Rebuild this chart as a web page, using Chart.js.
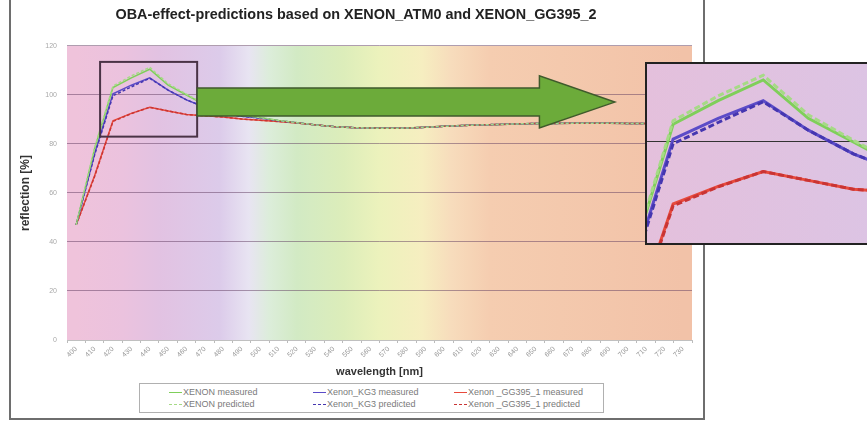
<!DOCTYPE html>
<html><head><meta charset="utf-8">
<script src="https://cdn.jsdelivr.net/npm/chart.js@4.4.1/dist/chart.umd.min.js"></script>
<style>
html,body{margin:0;padding:0;background:#fff;width:867px;height:421px;overflow:hidden;font-family:"Liberation Sans",Arial,sans-serif}
#frame{position:absolute;left:9px;top:-2px;width:696px;height:422px;border:2px solid #6e6e6e;border-top:none;box-sizing:border-box}
#main{position:absolute;left:0;top:0}
#insetBox{position:absolute;left:645px;top:62px;width:236px;height:183px;border:2px solid #222;box-sizing:border-box;background:linear-gradient(90deg,#e4c0dc,#dcc4e4)}
#inset{display:block}
#legend{position:absolute;left:139px;top:383px;width:465px;height:30px;border:1px solid #b0b0b0;box-sizing:border-box;font-size:9px;color:#7a7a7a;background:#fff}
.li{position:absolute;display:flex;align-items:center;white-space:nowrap;height:12px;line-height:12px}
.sw{width:13px;height:0;margin-right:1px}
</style></head><body>
<div id="frame"></div>
<canvas id="main" width="705" height="421"></canvas>
<div id="insetBox"><canvas id="inset" width="232" height="179"></canvas></div>
<div id="legend"></div>
<script>
// ---- data ----
const wavelengths = [400,410,420,430,440,450,460,470,480,490,500,510,520,530,540,550,560,570,580,590,600,610,620,630,640,650,660,670,680,690,700,710,720,730];
const xenonMeasured  = [47,78,103,107,110.5,104,100,96,93,91.7,90.8,89.6,88.7,87.8,87.1,86.7,86.5,86.4,86.5,86.8,87.2,87.5,87.8,88,88.2,88.4,88.4,88.5,88.5,88.5,88.4,88.4,88.4,88.4];
const xenonPredicted = [47,78.4,103.6,107.8,111.3,104.6,100.3,96.2,93.1,91.7,90.8,89.6,88.7,87.8,87.1,86.7,86.5,86.4,86.5,86.8,87.2,87.5,87.8,88,88.2,88.4,88.4,88.5,88.5,88.5,88.4,88.4,88.4,88.4];
const kg3Measured    = [47,76,100.5,104,107,102,98,95,92.5,91.3,90.6,89.5,88.7,87.8,87.1,86.7,86.5,86.4,86.5,86.8,87.2,87.5,87.8,88,88.2,88.4,88.4,88.5,88.5,88.5,88.4,88.4,88.4,88.4];
const kg3Predicted   = [47,75.5,99.7,103.3,106.8,102,98,95,92.5,91.3,90.6,89.5,88.7,87.8,87.1,86.7,86.5,86.4,86.5,86.8,87.2,87.5,87.8,88,88.2,88.4,88.4,88.5,88.5,88.5,88.4,88.4,88.4,88.4];
const gg395Measured  = [47,67,89.5,92.5,95,93.5,92,91.5,91,90.2,89.7,89.2,88.6,87.8,87.1,86.7,86.5,86.4,86.5,86.8,87.2,87.5,87.8,88,88.2,88.4,88.4,88.5,88.5,88.5,88.4,88.4,88.4,88.4];
const gg395Predicted = [47,66.7,89.2,92.4,95,93.5,92,91.5,91,90.2,89.7,89.2,88.6,87.8,87.1,86.7,86.5,86.4,86.5,86.8,87.2,87.5,87.8,88,88.2,88.4,88.4,88.5,88.5,88.5,88.4,88.4,88.4,88.4];
const seriesLabels = ['XENON measured','Xenon_KG3 measured','Xenon _GG395_1 measured','XENON predicted','Xenon_KG3 predicted','Xenon _GG395_1 predicted'];
const yTickValues = [0,20,40,60,80,100,120];

// ---- styles ----
const FONT = '"Liberation Sans", Arial, sans-serif';
Chart.defaults.font.family = FONT;
const seriesStyle = [
  {color:'#7fcf5a', dash:[], order:1},
  {color:'#5b4cc8', dash:[], order:1},
  {color:'#e84a3c', dash:[], order:1},
  {color:'#a6da86', dash:[3,2], order:0},
  {color:'#4536b0', dash:[3,2], order:0},
  {color:'#c93434', dash:[3,2], order:0}
];
const seriesValues = [xenonMeasured,kg3Measured,gg395Measured,xenonPredicted,kg3Predicted,gg395Predicted];
const spectrumStops = [[400,'#efc3db'],[425,'#ebc2de'],[445,'#e2c2e2'],[478,'#dccbea'],[494,'#e8e4f2'],[505,'#dcedda'],[520,'#d2eac4'],[545,'#dcedba'],[565,'#ecf2bc'],[588,'#f6eec0'],[604,'#f7dcbc'],[625,'#f5cdb0'],[730,'#f2c2a8']];
// annotations in data units (category index / %)
const zoomBox = {x0:1.3, x1:6.58, y0:83, y1:113.5};
const arrow = {x0:6.58, xHead:25.2, xTip:29.3, shaftTop:102.9, shaftBottom:91.4, headTop:107.8, headBottom:86.5, tipY:97.1};

const bgPlugin = {
  id:'bg',
  beforeDraw(chart){
    const {ctx, chartArea:a, scales:{x}} = chart;
    const g = ctx.createLinearGradient(a.left,0,a.right,0);
    spectrumStops.forEach(([nm,c])=>{
      const px = x.getPixelForValue((nm-400)/10);
      g.addColorStop(Math.min(1,Math.max(0,(px-a.left)/(a.right-a.left))), c);
    });
    ctx.save(); ctx.fillStyle=g; ctx.fillRect(a.left,a.top,a.right-a.left,a.bottom-a.top); ctx.restore();
  }
};
const annotPlugin = {
  id:'annot',
  afterDatasetsDraw(chart){
    const {ctx, scales:{x,y}} = chart;
    ctx.save();
    ctx.strokeStyle='#4a3346'; ctx.lineWidth=2;
    const bx0=x.getPixelForValue(zoomBox.x0), bx1=x.getPixelForValue(zoomBox.x1);
    const by0=y.getPixelForValue(zoomBox.y0), by1=y.getPixelForValue(zoomBox.y1);
    ctx.strokeRect(bx0,by1,bx1-bx0,by0-by1);
    const X0=x.getPixelForValue(arrow.x0), XH=x.getPixelForValue(arrow.xHead), XT=x.getPixelForValue(arrow.xTip);
    const ST=y.getPixelForValue(arrow.shaftTop), SB=y.getPixelForValue(arrow.shaftBottom);
    const HT=y.getPixelForValue(arrow.headTop), HB=y.getPixelForValue(arrow.headBottom), TY=y.getPixelForValue(arrow.tipY);
    ctx.beginPath();
    ctx.moveTo(X0,ST); ctx.lineTo(XH,ST); ctx.lineTo(XH,HT); ctx.lineTo(XT,TY); ctx.lineTo(XH,HB); ctx.lineTo(XH,SB); ctx.lineTo(X0,SB); ctx.closePath();
    ctx.fillStyle='#6cab3a'; ctx.fill();
    ctx.strokeStyle='#3f5a2c'; ctx.lineWidth=1.5; ctx.stroke();
    ctx.restore();
  }
};

new Chart(document.getElementById('main'), {
  type:'line',
  data:{
    labels: wavelengths.map(String),
    datasets: seriesValues.map((v,i)=>({label:seriesLabels[i], data:v, borderColor:seriesStyle[i].color, borderDash:seriesStyle[i].dash, borderWidth:1.5, pointRadius:0, fill:false, tension:0, order:seriesStyle[i].order}))
  },
  options:{
    responsive:false, animation:false,
    layout:{padding:{left:20,right:13,top:0,bottom:36}},
    plugins:{
      legend:{display:false}, tooltip:{enabled:false},
      title:{display:true, text:'OBA-effect-predictions based on XENON_ATM0 and XENON_GG395_2', color:'#222', font:{size:14.4, weight:'bold'}, padding:{top:6,bottom:22.7}}
    },
    scales:{
      x:{type:'category', offset:true,
        grid:{display:true, drawOnChartArea:false, drawTicks:true, tickLength:3, color:'#bbb', offset:true},
        border:{display:true, color:'#c0c0c0'},
        ticks:{autoSkip:false, maxRotation:45, minRotation:45, font:{size:7}, color:'#9a9a9a', padding:2},
        title:{display:true, text:'wavelength [nm]', color:'#333', font:{size:11, weight:'bold'}, padding:{top:0,bottom:6}},
        afterFit(s){ s.height=45; }
      },
      y:{min:0, max:120,
        afterBuildTicks(s){ s.ticks = yTickValues.map(v=>({value:v})); },
        ticks:{font:{size:7}, color:'#a8a8a8', padding:10},
        grid:{color:'rgba(95,60,95,0.5)', drawTicks:false, lineWidth:1},
        border:{display:false},
        title:{display:true, text:'reflection [%]', color:'#333', font:{size:12, weight:'bold', lineHeight:1}, padding:{top:0,bottom:0}},
        afterFit(s){ s.width=47; }
      }
    }
  },
  plugins:[bgPlugin, annotPlugin]
});

new Chart(document.getElementById('inset'), {
  type:'line',
  data:{
    datasets: seriesValues.map((v,i)=>({label:seriesLabels[i], data: wavelengths.map((w,j)=>({x:w,y:v[j]})), borderColor:seriesStyle[i].color, borderDash:seriesStyle[i].dash.length?[6,3]:[], borderWidth:3, pointRadius:0, tension:0, order:seriesStyle[i].order}))
  },
  options:{
    responsive:false, animation:false,
    layout:{padding:0},
    plugins:{legend:{display:false}, tooltip:{enabled:false}},
    scales:{
      x:{type:'linear', min:414.2, max:465.7, display:false},
      y:{min:82.9, max:113.2, ticks:{display:false}, border:{display:false},
        grid:{color:'#333', drawTicks:false, lineWidth:1},
        afterBuildTicks(s){ s.ticks=[{value:100}]; },
        afterFit(s){ s.width=0; }
      }
    }
  }
});

// HTML legend built from the datasets
const legend = document.getElementById('legend');
const colLeft = [29,173,314], rowTop = [2,14];
seriesLabels.forEach((lab,i)=>{
  const d = document.createElement('div');
  d.className='li';
  d.style.left = colLeft[i%3]+'px';
  d.style.top = rowTop[Math.floor(i/3)]+'px';
  const sw = document.createElement('span');
  sw.className='sw';
  sw.style.borderTop = '1.5px '+(seriesStyle[i].dash.length?'dashed ':'solid ')+seriesStyle[i].color;
  d.appendChild(sw);
  d.appendChild(document.createTextNode(lab));
  legend.appendChild(d);
});
</script>
</body></html>
